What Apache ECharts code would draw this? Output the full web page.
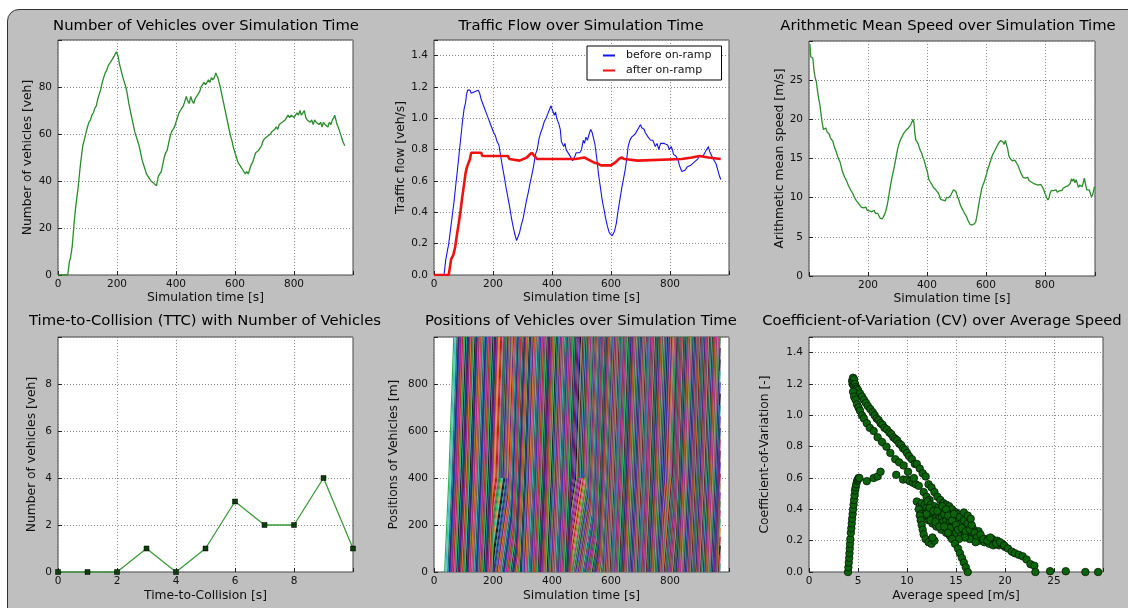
<!DOCTYPE html>
<html lang="en">
<head>
<meta charset="UTF-8">
<title>Traffic simulation</title>
<script src="https://cdn.jsdelivr.net/npm/echarts@6/dist/echarts.min.js"></script>
<style>
    html, body { margin: 0; padding: 0; background: #fff; overflow: hidden; }
    #frame {
        position: absolute; left: 7px; top: 9px; width: 1130px; height: 650px;
        background: #bfbfbf; border: 1px solid #333; border-radius: 12px;
    }
    #main { position: absolute; left: 0; top: 0; width: 1128px; height: 608px; }
</style>
</head>
<body>
<div id="frame"></div>
<div id="main"></div>
<script>
// ---- data ----
// number of vehicles [veh] over time [s]
const vehicleCount = [[0,0],[33,0],[36,3],[39,6],[42,7],[45,7],[48,12],[52,18],[56,24],[60,29],[64,33],[68,37],[72,42],[76,47],[80,51],[84,55],[88,57],[92,59],[96,61],[100,63],[105,65],[110,66],[115,68],[120,69],[125,71],[130,72],[135,75],[140,77],[145,79],[150,82],[155,84],[160,86],[165,87],[170,89],[175,90],[180,91],[185,92],[190,93],[195,93],[198,95],[201,94],[204,93],[208,90],[212,88],[216,86],[220,84],[225,82],[230,80],[235,77],[240,73],[245,70],[250,67],[255,64],[260,61],[265,59],[270,57],[275,55],[280,52],[285,49],[290,47],[295,45],[300,43],[305,42],[310,41],[315,40],[320,40],[325,39],[330,39],[334,38],[337,40],[340,42],[345,43],[350,44],[355,47],[360,50],[365,52],[370,53],[375,56],[380,59],[385,61],[390,62],[395,63],[400,65],[405,67],[410,69],[415,70],[420,71],[425,72],[430,74],[435,76],[440,74],[445,73],[450,76],[455,74],[460,73],[465,75],[470,76],[475,77],[480,78],[485,80],[490,81],[495,82],[500,81],[505,82],[510,83],[515,82],[520,84],[525,83],[530,84],[535,86],[538,85],[542,84],[546,82],[550,80],[555,77],[560,74],[565,71],[570,68],[575,65],[580,62],[585,59],[590,57],[595,54],[600,52],[605,50],[610,48],[615,47],[620,46],[625,45],[630,44],[635,43],[640,44],[645,43],[650,45],[655,47],[660,48],[665,50],[670,52],[675,52],[680,53],[685,54],[690,55],[695,57],[700,58],[705,58],[710,59],[715,59],[720,60],[725,61],[730,61],[735,62],[740,63],[745,62],[750,64],[755,64],[760,65],[765,65],[770,66],[775,67],[780,68],[785,67],[790,68],[795,68],[800,67],[805,68],[810,69],[815,68],[820,70],[825,68],[830,69],[835,70],[840,67],[845,66],[850,66],[855,65],[860,66],[865,64],[870,66],[875,65],[880,65],[885,64],[890,65],[895,63],[900,65],[905,64],[910,64],[915,63],[920,65],[925,64],[930,66],[935,67],[938,68],[942,66],[946,64],[950,63],[955,61],[960,59],[965,57],[972,55]];

// traffic flow [veh/s]
const flowBefore = [[0,0],[34,0],[37,0.05],[40,0.1],[45,0.11],[50,0.2],[56,0.29],[62,0.38],[68,0.47],[73,0.56],[80,0.68],[86,0.79],[90,0.86],[96,0.97],[102,1.06],[107,1.1],[110,1.15],[114,1.18],[118,1.17],[122,1.18],[126,1.16],[132,1.16],[138,1.17],[144,1.16],[150,1.18],[155,1.16],[160,1.12],[166,1.09],[172,1.06],[178,1.03],[184,1.0],[190,0.97],[196,0.94],[202,0.91],[208,0.89],[214,0.85],[220,0.83],[226,0.76],[232,0.69],[238,0.63],[244,0.56],[250,0.5],[256,0.44],[262,0.37],[268,0.31],[274,0.26],[280,0.22],[284,0.23],[290,0.27],[296,0.32],[302,0.36],[308,0.42],[314,0.48],[320,0.53],[326,0.59],[332,0.64],[338,0.7],[344,0.77],[350,0.8],[356,0.87],[362,0.91],[368,0.94],[374,0.98],[380,1.0],[386,1.03],[392,1.06],[397,1.08],[400,1.06],[404,1.07],[408,1.02],[412,1.04],[416,1.0],[420,1.01],[424,0.96],[428,0.93],[432,0.85],[436,0.86],[440,0.82],[444,0.84],[448,0.8],[452,0.79],[458,0.77],[464,0.76],[470,0.73],[474,0.72],[478,0.76],[482,0.78],[488,0.78],[494,0.78],[500,0.8],[506,0.86],[510,0.84],[515,0.88],[520,0.86],[526,0.9],[531,0.93],[536,0.91],[540,0.9],[546,0.83],[552,0.74],[558,0.64],[564,0.56],[570,0.48],[576,0.42],[582,0.36],[588,0.31],[594,0.27],[600,0.26],[604,0.25],[608,0.26],[612,0.28],[618,0.33],[624,0.41],[630,0.48],[636,0.55],[642,0.61],[648,0.67],[654,0.75],[658,0.82],[664,0.86],[670,0.88],[676,0.89],[682,0.9],[688,0.92],[694,0.94],[700,0.96],[704,0.94],[708,0.93],[712,0.93],[716,0.91],[720,0.9],[726,0.88],[730,0.89],[734,0.86],[738,0.87],[742,0.86],[746,0.84],[750,0.82],[756,0.84],[762,0.8],[768,0.84],[774,0.85],[780,0.84],[786,0.85],[792,0.83],[798,0.8],[804,0.82],[808,0.8],[812,0.77],[816,0.78],[820,0.76],[824,0.77],[828,0.73],[832,0.7],[836,0.68],[840,0.66],[846,0.66],[852,0.67],[858,0.69],[864,0.68],[870,0.7],[876,0.71],[882,0.72],[888,0.73],[894,0.74],[900,0.76],[906,0.77],[912,0.76],[918,0.78],[924,0.79],[930,0.82],[934,0.79],[938,0.78],[944,0.75],[950,0.74],[956,0.71],[962,0.67],[968,0.63],[972,0.61]];
const flowAfter = [[0,0],[50,0],[54,0.05],[58,0.1],[62,0.1],[66,0.13],[72,0.18],[78,0.26],[84,0.33],[90,0.41],[96,0.5],[102,0.58],[107,0.65],[112,0.69],[118,0.7],[122,0.74],[126,0.78],[130,0.78],[160,0.78],[164,0.76],[250,0.76],[256,0.74],[262,0.73],[290,0.73],[296,0.74],[315,0.75],[325,0.77],[332,0.78],[340,0.76],[346,0.75],[350,0.74],[480,0.74],[486,0.75],[510,0.75],[516,0.74],[530,0.73],[540,0.72],[556,0.71],[566,0.7],[600,0.7],[606,0.71],[616,0.72],[626,0.74],[636,0.75],[646,0.74],[652,0.73],[690,0.73],[694,0.74],[840,0.74],[846,0.75],[874,0.75],[880,0.76],[900,0.76],[906,0.75],[930,0.75],[936,0.74],[972,0.74]];

// arithmetic mean speed [m/s]
const meanSpeed = [[3,29.6],[6,28.0],[9,27.9],[13,27.8],[17,26.2],[21,25.3],[25,24.8],[29,23.6],[33,22.6],[37,21.8],[41,20.6],[45,19.5],[49,18.7],[53,18.6],[57,18.9],[61,18.4],[65,18.5],[69,18.1],[73,17.6],[77,17.8],[81,17.2],[85,16.6],[89,16.5],[93,15.8],[97,15.3],[101,14.9],[105,14.6],[109,14.0],[113,13.4],[117,13.0],[121,12.6],[125,12.3],[129,12.0],[133,11.6],[137,11.3],[141,11.0],[145,10.8],[149,10.5],[153,10.1],[157,10.0],[161,9.6],[165,9.5],[169,9.2],[173,9.0],[177,8.8],[181,9.0],[185,8.7],[189,8.5],[193,8.8],[197,8.4],[201,8.6],[205,8.3],[209,8.5],[213,8.2],[217,8.1],[221,8.4],[225,8.0],[229,7.8],[233,8.0],[237,7.7],[241,7.4],[245,7.2],[249,7.3],[253,7.6],[257,7.9],[261,8.4],[265,9.0],[269,9.8],[273,10.8],[277,11.7],[281,12.5],[285,13.2],[289,13.9],[293,14.7],[297,15.5],[301,16.3],[305,16.8],[309,17.3],[313,17.6],[317,17.9],[321,18.2],[325,18.4],[329,18.6],[333,18.7],[337,18.9],[341,19.1],[345,19.3],[349,19.5],[353,20.0],[356,19.6],[359,18.2],[362,17.4],[366,17.5],[370,16.9],[374,16.4],[378,16.0],[382,15.7],[386,15.2],[390,14.8],[394,14.3],[398,13.7],[402,13.2],[406,12.4],[410,12.1],[414,12.2],[418,11.6],[422,11.3],[426,11.2],[430,11.0],[434,10.8],[438,10.6],[442,10.3],[446,9.8],[450,9.6],[454,9.7],[458,9.5],[462,9.6],[466,10.0],[470,10.1],[474,10.0],[478,10.2],[482,10.4],[486,10.6],[490,11.0],[494,11.1],[498,10.8],[502,10.3],[506,9.9],[510,9.5],[514,9.0],[518,8.7],[522,8.4],[526,8.1],[530,7.9],[534,7.6],[538,7.2],[542,6.9],[546,6.6],[550,6.5],[554,6.5],[558,6.6],[562,6.7],[566,7.0],[570,7.8],[574,8.7],[578,9.6],[582,10.4],[586,11.2],[590,11.6],[594,12.0],[598,12.5],[602,13.0],[606,13.6],[610,14.0],[614,14.5],[618,15.0],[622,15.4],[626,15.7],[630,16.0],[634,16.3],[638,16.6],[642,16.9],[646,17.1],[650,17.3],[654,17.5],[658,17.1],[662,16.8],[666,17.3],[670,17.2],[674,16.2],[678,15.3],[682,15.0],[686,15.2],[690,14.7],[694,14.9],[698,14.8],[702,14.9],[706,14.3],[710,14.0],[714,13.6],[718,13.2],[722,12.9],[726,12.6],[730,12.8],[734,12.5],[738,12.7],[742,12.6],[746,12.2],[750,12.4],[754,12.0],[758,12.1],[762,11.8],[766,12.0],[770,11.7],[774,11.9],[778,11.6],[782,11.5],[786,11.7],[790,11.6],[794,11.2],[798,10.8],[802,10.4],[806,10.0],[810,9.7],[814,10.0],[818,10.6],[822,10.9],[826,10.7],[830,10.9],[834,10.8],[838,11.0],[842,10.7],[846,10.8],[850,10.9],[854,11.1],[858,10.9],[862,11.2],[866,11.1],[870,11.4],[874,11.3],[878,11.5],[882,11.3],[886,11.8],[890,12.4],[894,12.1],[898,12.4],[902,11.9],[906,12.3],[910,11.8],[914,11.3],[918,11.6],[922,11.8],[926,11.4],[930,11.9],[934,12.5],[938,11.7],[942,11.0],[946,10.9],[950,11.0],[954,10.6],[958,10.1],[962,10.4],[966,11.0],[968,11.4]];

// time-to-collision histogram
const ttcSeconds = [0, 1, 2, 3, 4, 5, 6, 7, 8, 9, 10];
const ttcVehicles = [0, 0, 0, 1, 0, 1, 3, 2, 2, 4, 1];

// vehicle trajectories
// entries at the start of the road and at the on-ramp: [from, to, headway]
const entryPlan = [[36, 48, 4], [48, 970, 1.35]];
const rampPlan = [[223, 250, 1.5], [487, 520, 1.5], [797, 808, 1.5]];
// jam triangles: [base start, apex time, apex position, base end, speed inside]
const jamZones = [[206, 243, 400, 296, 9], [470, 512, 410, 578, 8], [782, 806, 410, 836, 16]];
const jamFan = 20;              // vehicles entering this long before a jam brake near the ramp [s]
const roadSpeed = [28, 36];     // below / above the on-ramp [m/s]
const rampPos = 400, roadEnd = 1000, simEnd = 970;

// coefficient of variation [-] over average speed [m/s]
const cvRise = [[3.98,0.0],[4.02,0.03],[4.06,0.06],[4.1,0.09],[4.13,0.12],[4.16,0.15],[4.19,0.18],[4.22,0.21],[4.27,0.25],[4.32,0.28],[4.36,0.31],[4.4,0.34],[4.45,0.37],[4.5,0.4],[4.55,0.43],[4.6,0.46],[4.65,0.49],[4.7,0.52],[4.76,0.54],[4.82,0.56],[4.9,0.58],[4.98,0.59],[5.06,0.6],[5.14,0.6]];
const cvBridge = [[5.9,0.58],[6.6,0.6],[7.0,0.61],[7.3,0.64],[8.9,0.62],[9.6,0.59],[10.0,0.59],[10.3,0.58],[10.6,0.57],[10.9,0.56]];
const cvUpper = [[4.4,1.22],[4.5,1.24],[4.6,1.23],[4.45,1.2],[4.55,1.19],[4.7,1.2],[4.8,1.18],[4.9,1.17],[5.0,1.16],[5.2,1.14],[5.4,1.12],[5.6,1.1],[5.8,1.08],[6.0,1.06],[6.25,1.04],[6.5,1.02],[6.7,1.0],[6.9,0.98],[7.1,0.97],[7.3,0.95],[7.5,0.94],[7.7,0.92],[7.95,0.91],[8.2,0.89],[8.4,0.88],[8.6,0.86],[8.8,0.85],[9.0,0.84],[9.2,0.82],[9.4,0.81],[9.6,0.79],[9.8,0.78],[10.0,0.76],[10.2,0.74],[10.5,0.72],[10.8,0.69],[11.0,0.69],[11.3,0.66],[11.6,0.63],[11.9,0.61],[12.2,0.56],[12.5,0.54],[12.8,0.51],[13.1,0.48],[13.4,0.46],[13.7,0.44],[14.0,0.43],[14.3,0.42],[14.6,0.4],[15.0,0.38],[15.4,0.36]];
const cvLower = [[4.5,1.15],[4.6,1.12],[4.75,1.1],[4.9,1.07],[5.05,1.05],[5.2,1.03],[5.4,1.0],[5.6,0.98],[5.9,0.95],[6.2,0.92],[6.6,0.9],[7.0,0.86],[7.45,0.83],[7.9,0.8],[8.3,0.76],[8.8,0.72],[9.2,0.7],[9.65,0.68],[10.1,0.64],[10.7,0.6],[11.2,0.55],[11.7,0.51],[12.0,0.48],[12.3,0.46]];
const cvCluster = [[11.0,0.45],[11.3,0.42],[11.5,0.44],[11.6,0.4],[11.8,0.43],[11.9,0.38],[12.0,0.41],[12.2,0.39],[12.3,0.36],[12.5,0.4],[12.6,0.37],[12.7,0.34],[12.9,0.38],[13.0,0.35],[13.1,0.32],[13.2,0.37],[13.3,0.34],[13.4,0.31],[13.5,0.38],[13.6,0.35],[13.7,0.32],[13.8,0.29],[13.9,0.36],[14.0,0.33],[14.1,0.3],[14.2,0.27],[14.3,0.35],[14.4,0.32],[14.5,0.29],[14.6,0.26],[14.7,0.34],[14.8,0.31],[14.9,0.28],[15.0,0.25],[15.1,0.37],[15.2,0.33],[15.3,0.3],[15.4,0.27],[15.5,0.24],[15.6,0.34],[15.7,0.31],[15.8,0.28],[15.9,0.25],[16.0,0.3],[16.2,0.27],[16.3,0.23],[16.5,0.29],[16.6,0.25],[16.8,0.22],[17.0,0.26],[17.2,0.23],[17.4,0.2],[17.6,0.22],[17.9,0.19],[18.1,0.21],[18.4,0.18],[18.7,0.21],[18.9,0.19],[19.2,0.2],[19.4,0.17],[19.7,0.18],[20.0,0.16],[12.1,0.45],[12.4,0.43],[12.8,0.42],[13.2,0.41],[13.6,0.4],[14.1,0.38],[14.6,0.36],[15.0,0.34],[15.5,0.31],[16.1,0.33],[16.7,0.28],[17.3,0.26],[11.8,0.35],[12.2,0.33],[12.6,0.31],[13.0,0.29],[13.5,0.27],[14.0,0.25],[14.4,0.23],[11.2,0.4],[11.4,0.37],[11.7,0.36],[12.0,0.37],[12.3,0.41],[12.4,0.33],[12.7,0.39],[12.9,0.32],[13.1,0.39],[13.3,0.29],[13.6,0.42],[13.8,0.37],[14.0,0.4],[14.2,0.36],[14.4,0.28],[14.6,0.33],[14.8,0.37],[15.0,0.3],[15.2,0.27],[15.4,0.35],[15.6,0.28],[15.8,0.33],[16.0,0.26],[16.2,0.31],[16.4,0.27],[16.6,0.3],[16.9,0.25],[17.1,0.22],[17.5,0.24],[17.8,0.21],[18.2,0.2],[18.5,0.22],[18.8,0.17],[19.1,0.18],[19.5,0.19],[19.9,0.17],[16.4,0.21],[15.9,0.22],[15.3,0.21],[17.0,0.19],[15.8,0.38],[16.2,0.36],[16.5,0.34]];
const cvTail = [[20.3,0.15],[20.7,0.13],[21.0,0.12],[21.4,0.11],[21.8,0.1],[22.2,0.08],[22.6,0.05],[23.0,0.04],[23.1,0.0],[24.6,0.005],[26.2,0.005],[28.2,0.0],[29.5,0.0]];
const cvDrop = [[13.8,0.29],[14.2,0.25],[14.6,0.21],[14.9,0.18],[15.2,0.15],[15.4,0.12],[15.6,0.09],[15.8,0.06],[16.0,0.03],[16.2,0.0]];
const cvHook = [[11.3,0.36],[11.4,0.33],[11.5,0.3],[11.6,0.27],[11.7,0.24],[11.9,0.21],[12.2,0.19],[12.5,0.18],[12.8,0.2],[12.6,0.22]];

// ---- trajectories ----
function entryTimes(plan) {
    const out = [];
    plan.forEach(function (p) {
        for (let t = p[0]; t < p[1]; t += p[2]) out.push(t);
    });
    return out;
}

function cutAtEnd(pts) {
    const cut = [pts[0]];
    for (let i = 1; i < pts.length; i++) {
        const a = pts[i - 1], b = pts[i];
        if (b[0] <= simEnd) { cut.push(b); continue; }
        if (a[0] < simEnd) cut.push([simEnd, a[1] + (b[1] - a[1]) * (simEnd - a[0]) / (b[0] - a[0])]);
        break;
    }
    return cut;
}

function trajectory(t0) {
    const pts = [[t0, 0]];
    let t = t0, x = 0;
    jamZones.forEach(function (z) {
        if (t0 >= z[0] - jamFan && t0 < z[0]) {
            // drives freely, then brakes to jam speed before the ramp
            const xb = rampPos * (z[0] - t0) / jamFan;
            t = t0 + xb / roadSpeed[0];
            pts.push([t, xb]);
            t += (rampPos - xb) / z[4];
            x = rampPos;
            pts.push([t, x]);
        } else if (t0 >= z[0] && t0 < z[3]) {
            // crawls until the discharge front (right edge of the triangle)
            const k = (z[3] - z[1]) / z[2];
            const xs = Math.min((z[3] - t0) / (1 / z[4] + k), z[2]);
            t = t0 + xs / z[4];
            x = xs;
            pts.push([t, x]);
        }
    });
    if (x < rampPos) {
        t += (rampPos - x) / roadSpeed[0];
        x = rampPos;
        pts.push([t, x]);
    }
    t += (roadEnd - x) / roadSpeed[1];
    pts.push([t, roadEnd]);
    return cutAtEnd(pts);
}

function rampTrajectory(t0) {
    return cutAtEnd([[t0, rampPos], [t0 + (roadEnd - rampPos) / roadSpeed[1], roadEnd]]);
}

// colour per vehicle: scrambled index so the palette does not form regular bands
const lineColors = ['#c0307a', '#2a2a8a', '#2a8a3a', '#7a2a9a', '#2a9a9a', '#e060a0', '#8a8a2a',
                    '#151515', '#b02020', '#3a3ad0', '#40c0c0', '#e08030', '#6a1a5a', '#30b050'];
function colorFor(i) {
    const h = Math.imul(i + 1, 2654435761) >>> 0;
    return lineColors[(h >>> 7) % lineColors.length];
}
const trajData = entryTimes(entryPlan).map(trajectory).concat(entryTimes(rampPlan).map(rampTrajectory))
    .map(function (coords, i) {
        return { coords: coords, lineStyle: { color: colorFor(i) } };
    });

// ---- layout ----
const grids = [
    [58, 40, 295, 235], [434, 40, 295, 235], [809, 41, 286, 235],
    [58, 337, 295, 235], [434, 337, 295, 235], [809, 337, 294, 235]
];
const titleCenters = [206, 581, 948, 205, 581, 942];
const titles = [
    'Number of Vehicles over Simulation Time', 'Traffic Flow over Simulation Time',
    'Arithmetic Mean Speed over Simulation Time', 'Time-to-Collision (TTC) with Number of Vehicles',
    'Positions of Vehicles over Simulation Time', 'Coefficient-of-Variation (CV) over Average Speed'
];
const font = 'DejaVu Sans';

function axis(i, min, max, step, name, gap, opts) {
    opts = opts || {};
    return {
        type: 'value', gridIndex: i, min: min, max: max, interval: step,
        name: name, nameLocation: 'middle', nameGap: gap,
        nameTextStyle: { fontFamily: font, fontSize: 12.3, color: '#111' },
        axisLine: { show: false },
        axisTick: { show: true, inside: true, length: 4, lineStyle: { color: '#222' } },
        axisLabel: {
            fontFamily: font, fontSize: 10.5, color: '#111', margin: opts.margin || 4,
            formatter: function (v) {
                if (Math.abs(v - max) < 1e-9) return '';
                if (opts.hideMin && Math.abs(v - min) < 1e-9) return '';
                return opts.dec ? v.toFixed(opts.dec) : String(Math.round(v));
            }
        },
        splitLine: { show: true, lineStyle: { color: '#8a8a8a', width: 1, type: [1, 2] } }
    };
}

const option = {
    animation: false,
    title: titles.map(function (text, i) {
        return {
            text: text, left: titleCenters[i], top: i < 3 ? 19 : 314, textAlign: 'center', padding: 0,
            textStyle: { fontFamily: font, fontSize: 14.8, fontWeight: 'normal', color: '#000' }
        };
    }),
    grid: grids.map(function (g) {
        return { left: g[0], top: g[1], width: g[2], height: g[3], show: true,
                 backgroundColor: '#fff', borderColor: '#444', borderWidth: 1 };
    }),
    legend: {
        data: ['before on-ramp', 'after on-ramp'], orient: 'vertical',
        left: 587, top: 46, padding: [4, 10, 4, 16], itemGap: 4, itemWidth: 12, itemHeight: 2,
        icon: 'rect', backgroundColor: '#fff', borderColor: '#000', borderWidth: 1, borderRadius: 0,
        textStyle: { fontFamily: font, fontSize: 11, color: '#111', padding: [0, 0, 0, 6] }
    },
    xAxis: [
        axis(0, 0, 1000, 200, 'Simulation time [s]', 17),
        axis(1, 0, 1000, 200, 'Simulation time [s]', 17),
        axis(2, 0, 970, 200, 'Simulation time [s]', 17, { hideMin: true }),
        axis(3, 0, 10, 2, 'Time-to-Collision [s]', 18),
        axis(4, 0, 1000, 200, 'Simulation time [s]', 18),
        axis(5, 0, 30, 5, 'Average speed [m/s]', 18)
    ],
    yAxis: [
        axis(0, 0, 100, 20, 'Number of vehicles [veh]', 24, { margin: 6 }),
        axis(1, 0, 1.5, 0.2, 'Traffic flow [veh/s]', 27, { margin: 6, dec: 1 }),
        axis(2, 0, 30, 5, 'Arithmetic mean speed [m/s]', 23, { margin: 6 }),
        axis(3, 0, 10, 2, 'Number of vehicles [veh]', 20, { margin: 6 }),
        axis(4, 0, 1000, 200, 'Positions of Vehicles [m]', 34, { margin: 6 }),
        axis(5, 0, 1.5, 0.2, 'Coefficient-of-Variation [-]', 38, { margin: 6, dec: 1 })
    ],
    series: [
        { type: 'line', xAxisIndex: 0, yAxisIndex: 0, data: vehicleCount, showSymbol: false,
          lineStyle: { color: '#2a8c2a', width: 1.3 } },
        { type: 'line', name: 'before on-ramp', xAxisIndex: 1, yAxisIndex: 1, data: flowBefore, showSymbol: false,
          itemStyle: { color: '#1515ee' }, lineStyle: { color: '#1515ee', width: 1.1 } },
        { type: 'line', name: 'after on-ramp', xAxisIndex: 1, yAxisIndex: 1, data: flowAfter, showSymbol: false,
          itemStyle: { color: '#f01010' }, lineStyle: { color: '#f01010', width: 2.6 } },
        { type: 'line', xAxisIndex: 2, yAxisIndex: 2, data: meanSpeed, showSymbol: false,
          lineStyle: { color: '#2a8c2a', width: 1.3 } },
        { type: 'line', xAxisIndex: 3, yAxisIndex: 3,
          data: ttcSeconds.map(function (s, i) { return [s, ttcVehicles[i]]; }),
          symbol: 'rect', symbolSize: 5, showAllSymbol: true,
          itemStyle: { color: '#0d3d0d', borderColor: '#000', borderWidth: 0.5 },
          lineStyle: { color: '#3a9a3a', width: 1.3 } },
        { type: 'lines', coordinateSystem: 'cartesian2d', xAxisIndex: 4, yAxisIndex: 4,
          polyline: true, silent: true, data: trajData, lineStyle: { width: 1.2, opacity: 1 } },
        { type: 'scatter', xAxisIndex: 5, yAxisIndex: 5, symbolSize: 7.5,
          data: [].concat(cvRise, cvBridge, cvUpper, cvLower, cvCluster, cvTail, cvDrop, cvHook),
          itemStyle: { color: '#0b640b', borderColor: '#061a06', borderWidth: 0.8, opacity: 1 } }
    ]
};

const chart = echarts.init(document.getElementById('main'), null, { renderer: 'canvas' });
chart.setOption(option);
</script>
</body>
</html>
